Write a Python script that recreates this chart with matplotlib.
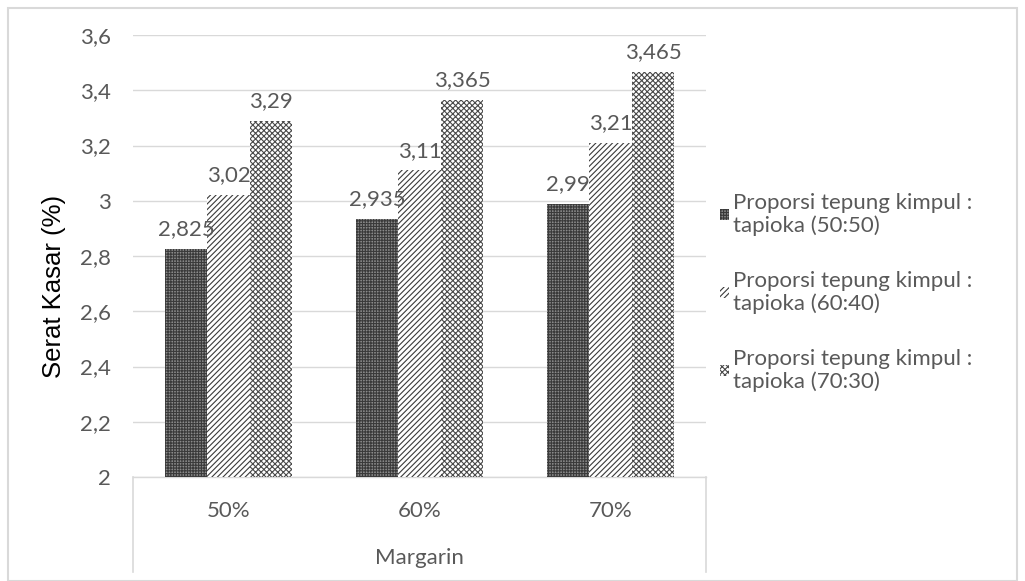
import matplotlib
matplotlib.use("Agg")
import matplotlib.pyplot as plt
import numpy as np
from matplotlib.patches import Rectangle

categories = ["50%", "60%", "70%"]
series_names = ["Proporsi tepung kimpul :\ntapioka (50:50)",
                "Proporsi tepung kimpul :\ntapioka (60:40)",
                "Proporsi tepung kimpul :\ntapioka (70:30)"]
s5050 = [2.825, 2.935, 2.99]
s6040 = [3.02, 3.11, 3.21]
s7030 = [3.29, 3.365, 3.465]
label_5050 = ["2,825", "2,935", "2,99"]
label_6040 = ["3,02", "3,11", "3,21"]
label_7030 = ["3,29", "3,365", "3,465"]
yticks = [2, 2.2, 2.4, 2.6, 2.8, 3, 3.2, 3.4, 3.6]
ytick_labels = ["2", "2,2", "2,4", "2,6", "2,8", "3", "3,2", "3,4", "3,6"]

W, H = 1025, 581
fig = plt.figure(figsize=(W / 100, H / 100), dpi=100)
ax = fig.add_axes([133 / W, 1 - 477 / H, (706 - 133) / W, (477 - 35) / H])

txt = "#595959"
font = "Lato"
fs = 16
plt.rcParams['hatch.linewidth'] = 0.8

x = np.arange(len(categories))
bw = 0.222
styles = [
    dict(facecolor="#8a8a8a", edgecolor="#3a3a3a", hatch="++++++"),
    dict(facecolor="white", edgecolor="#3a3a3a", hatch="//////"),
    dict(facecolor="white", edgecolor="#4a4a4a", hatch="xxxxxx"),
]
data = [s5050, s6040, s7030]
labels = [label_5050, label_6040, label_7030]
handles = []
for i, (vals, st, labs) in enumerate(zip(data, styles, labels)):
    pos = x + (i - 1) * bw
    bars = ax.bar(pos, np.array(vals) - 2, bottom=2, width=bw, linewidth=0,
                  zorder=3, **st)
    handles.append(bars)
    for p, v, l in zip(pos, vals, labs):
        ax.annotate(l, (p, v), xytext=(0, 7), textcoords="offset points",
                    ha="center", va="bottom", fontsize=fs, color=txt,
                    family=font, zorder=4)

ax.set_xlim(-0.5, 2.5)
ax.set_ylim(2, 3.6)
ax.set_yticks(yticks)
ax.set_yticklabels(ytick_labels, family=font, fontsize=fs, color=txt)
ax.set_xticks([])
ax.yaxis.grid(True, color="#d9d9d9", linewidth=1, zorder=0)
ax.tick_params(axis="y", length=0, pad=16)
for s in ["left", "right", "top"]:
    ax.spines[s].set_visible(False)
ax.spines["bottom"].set_color("#d9d9d9")
ax.spines["bottom"].set_linewidth(1)

# category axis box
for xx in [-0.5, 2.5]:
    ax.plot([xx, xx], [2, 2 - 95 / 442 * 1.6], color="#d9d9d9", lw=1.2,
            clip_on=False, zorder=1)
for xi, c in zip(x, categories):
    ax.text(xi, 2 - 34 / 442 * 1.6, c, ha="center", va="center",
            fontsize=fs, color=txt, family=font)
ax.text(1, 2 - 81 / 442 * 1.6, "Margarin", ha="center", va="center",
        fontsize=fs, color=txt, family=font)

ax.set_ylabel("Serat Kasar (%)", family="Liberation Sans", fontsize=18.5,
              color="black")
ax.yaxis.set_label_coords((66 - 133) / 573, (477 - 286) / 442)

leg = fig.legend(handles, series_names, loc="upper left",
                 bbox_to_anchor=(720 / W, 1 - 193 / H), frameon=False,
                 prop={"family": font, "size": fs}, labelcolor=txt,
                 handlelength=0.4, handleheight=0.4, handletextpad=0.2,
                 labelspacing=1.6, borderpad=0, borderaxespad=0)
for t in leg.get_texts():
    t.set_linespacing(1.12)

# chart border
fig.patches.append(Rectangle((8 / W, 0), 1 - 16 / W, 1 - 8 / H,
                             transform=fig.transFigure, fill=False,
                             edgecolor="#d9d9d9", lw=1.5))

fig.savefig("out.png", dpi=100)
